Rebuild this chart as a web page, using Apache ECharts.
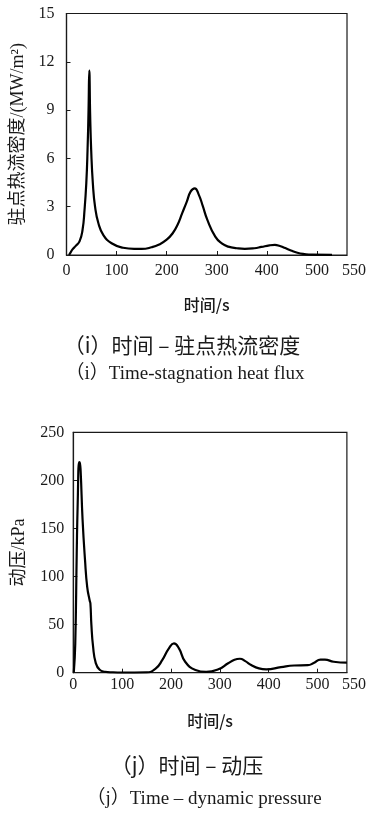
<!DOCTYPE html>
<html>
<head>
<meta charset="utf-8">
<script src="https://cdn.jsdelivr.net/npm/echarts@6/dist/echarts.min.js"></script>
<style>
  html, body { margin: 0; padding: 0; background: #fff; }
  #chart { width: 369px; height: 816px; }
</style>
</head>
<body>
<div id="chart"></div>
<script>
// (i) stagnation-point heat flux vs time
const heatTime = [5, 8, 12, 18, 26, 32, 36, 39.5, 42, 44, 45.5, 47.3, 49.3, 52.6, 57, 63.7, 73.6, 90, 113, 135, 150, 170, 185, 200, 212, 222, 231, 240, 248, 256, 264, 272, 281, 297, 310, 323, 340, 356, 375, 389, 405, 416, 426, 435, 448, 461, 475, 490, 530];
const heatFlux = [0, 0.15, 0.35, 0.55, 0.85, 1.55, 2.8, 4.45, 6.5, 9, 11.45, 8.6, 6.5, 4.45, 3.0, 1.97, 1.24, 0.73, 0.45, 0.38, 0.38, 0.48, 0.65, 0.95, 1.35, 1.9, 2.6, 3.3, 3.95, 4.14, 3.75, 3.05, 2.2, 1.14, 0.72, 0.52, 0.42, 0.38, 0.42, 0.5, 0.6, 0.63, 0.56, 0.45, 0.28, 0.14, 0.06, 0.02, 0.01];

// (j) dynamic pressure vs time
const pressTime = [1, 4, 7, 9, 12, 13.5, 15, 19, 24, 28.5, 33.5, 35, 37, 40.5, 46, 54, 65, 80, 100, 150, 169, 182, 196, 206, 216, 229, 250, 272, 297, 317, 330, 341, 352, 364, 380, 395, 425, 452, 480, 492, 506, 515, 533, 560];
const pressure = [0, 30, 124, 176, 219, 218, 210, 159, 117, 89, 75, 72, 50, 27, 10, 3, 1, 0.3, 0, 0.3, 4.5, 13, 25.6, 30.5, 25.6, 11.4, 2.8, 0.8, 3.5, 9.8, 13.5, 14.5, 12, 8, 4.5, 3.5, 5.8, 7.5, 7.8, 10, 13.5, 13.5, 11.4, 10.5];

// axis tick labels
const timeTickLabels = [0, 100, 200, 300, 400, 500, 550];
const timeTickMarks = [100, 200, 300, 400, 500];

// text
const heatAxisName = '驻点热流密度/(MW/m²)';
const pressAxisName = '动压/kPa';
const timeAxisName = '时间/s';
const captionI_cn = '（i）时间 – 驻点热流密度';
const captionI_en = '（i）Time-stagnation heat flux';
const captionJ_cn = '（j）时间 – 动压';
const captionJ_en = '（j）Time – dynamic pressure';

const SERIF = '"Liberation Serif", "Times New Roman", "Noto Sans CJK SC", serif';
const CJK = '"Noto Sans CJK SC", sans-serif';
const INK = '#1a1a1a';

function pairs(xs, ys) { return xs.map((x, i) => [x, ys[i]]); }

function xAxisFor(gridIndex, labelMargin, nameGap) {
  return {
    type: 'value', gridIndex, min: 0, max: 560,
    name: timeAxisName, nameLocation: 'middle', nameGap,
    nameTextStyle: { fontFamily: CJK, fontSize: 16, fontWeight: 500, color: INK },
    axisLine: { show: true, onZero: false, lineStyle: { color: INK, width: 1.2 } },
    axisTick: { show: true, inside: true, length: 4, customValues: timeTickMarks, lineStyle: { color: INK } },
    axisLabel: { customValues: timeTickLabels, margin: labelMargin, fontFamily: SERIF, fontSize: 16, color: INK, alignMaxLabel: 'left' },
    splitLine: { show: false }
  };
}

function yAxisFor(gridIndex, max, interval, name, nameGap, labelMargin) {
  return {
    type: 'value', gridIndex, min: 0, max, interval,
    name, nameLocation: 'middle', nameRotate: 90, nameGap,
    nameTextStyle: { fontFamily: SERIF, fontSize: 18, color: INK },
    axisLine: { show: true, onZero: false, lineStyle: { color: INK, width: 1.2 } },
    axisTick: { show: true, inside: true, length: 4, lineStyle: { color: INK } },
    axisLabel: { margin: labelMargin, fontFamily: SERIF, fontSize: 16, color: INK },
    splitLine: { show: false }
  };
}

const chart = echarts.init(document.getElementById('chart'), null, { renderer: 'canvas' });

chart.setOption({
  backgroundColor: '#fff',
  animation: false,
  grid: [
    { left: 66.5, top: 13.5, width: 283.5, height: 241.5, show: true, borderColor: INK, borderWidth: 1.2, containLabel: false },
    { left: 73.3, top: 432.3, width: 276, height: 240.4, show: true, borderColor: INK, borderWidth: 1.2, containLabel: false }
  ],
  xAxis: [
    xAxisFor(0, 8, 42),
    xAxisFor(1, 4, 40)
  ],
  yAxis: [
    yAxisFor(0, 15, 3, heatAxisName, 37, 12),
    yAxisFor(1, 250, 50, pressAxisName, 45, 9)
  ],
  series: [
    {
      type: 'line', xAxisIndex: 0, yAxisIndex: 0,
      data: pairs(heatTime, heatFlux),
      smooth: 0.5, showSymbol: false,
      lineStyle: { color: '#000', width: 2.2, join: 'round' }
    },
    {
      type: 'line', xAxisIndex: 1, yAxisIndex: 1,
      data: pairs(pressTime, pressure),
      smooth: 0.5, showSymbol: false,
      lineStyle: { color: '#000', width: 2.2, join: 'round' }
    }
  ],
  graphic: [
    { type: 'text', x: 182, y: 345, style: { text: captionI_cn, textAlign: 'center', textVerticalAlign: 'middle', font: '21px ' + CJK, fill: INK } },
    { type: 'text', x: 185, y: 374, style: { text: captionI_en, textAlign: 'center', textVerticalAlign: 'middle', font: '19px ' + SERIF, fill: INK } },
    { type: 'text', x: 187, y: 765, style: { text: captionJ_cn, textAlign: 'center', textVerticalAlign: 'middle', font: '21px ' + CJK, fill: INK } },
    { type: 'text', x: 204, y: 799, style: { text: captionJ_en, textAlign: 'center', textVerticalAlign: 'middle', font: '19px ' + SERIF, fill: INK } }
  ]
});
</script>
</body>
</html>
